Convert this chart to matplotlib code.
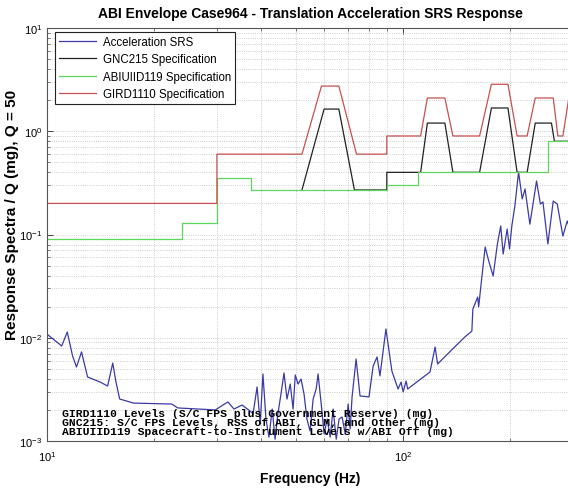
import matplotlib
matplotlib.use('Agg')
from matplotlib import pyplot
from matplotlib.ticker import LogLocator, NullFormatter

# measured SRS response (Hz, mg)
srs_freq = [10.07, 11.0, 11.4, 11.8, 12.1, 12.5, 13.0, 14.1, 14.8, 15.3, 15.6, 16.0, 17.5, 22.4, 23.3,
            29.7, 32.2, 33.5, 35.3, 37.2, 37.9, 38.9, 39.7, 40.4, 41.2, 42.0, 42.9, 43.7, 44.5, 45.4,
            46.3, 47.2, 48.2, 49.1, 49.8, 50.7, 51.7, 52.7, 53.7, 54.8, 55.9, 57.0, 57.7, 58.9, 60.0,
            61.2, 62.4, 63.6, 64.9, 66.1, 67.4, 68.8, 70.1, 71.0, 71.9, 73.8, 75.7, 80.2, 82.4, 84.5,
            86.1, 89.5, 93.0, 96.8, 98.7, 100, 102, 103, 119, 123, 125, 136, 149, 156, 157, 162, 163,
            167, 170, 174, 179, 184, 188, 191, 196, 199, 202, 206, 211, 216, 220, 227, 237, 243, 247,
            255, 264, 271, 281, 289, 298]
srs_mg = [0.01063, 0.00832, 0.01137, 0.00665, 0.00521, 0.00728, 0.00417, 0.00372, 0.00341, 0.00569,
          0.00381, 0.00255, 0.00233, 0.00228, 0.00209, 0.00200, 0.00239, 0.00204, 0.00223, 0.00195,
          0.00183, 0.00334, 0.00146, 0.00446, 0.00163, 0.00109, 0.00204, 0.00104, 0.00183, 0.00285,
          0.00456, 0.00255, 0.00356, 0.00204, 0.00436, 0.00356, 0.00398, 0.00285, 0.00163, 0.00125,
          0.00255, 0.00319, 0.00446, 0.00228, 0.00117, 0.00163, 0.00109, 0.00204, 0.00104, 0.00163,
          0.00171, 0.00117, 0.00228, 0.00131, 0.00267, 0.00622, 0.00273, 0.00267, 0.00532, 0.00652,
          0.00427, 0.01216, 0.00476, 0.00319, 0.00372, 0.00299, 0.00381, 0.00319, 0.00466, 0.00813,
          0.00557, 0.00745, 0.01016, 0.01161, 0.01897, 0.0248, 0.0199, 0.0434, 0.0757, 0.0553, 0.0396,
          0.0810, 0.121, 0.0647, 0.113, 0.0725, 0.121, 0.189, 0.403, 0.221, 0.276, 0.126, 0.330, 0.197,
          0.207, 0.0810, 0.211, 0.197, 0.0966, 0.135, 0.101]

gnc_freq = [52, 60, 66, 73, 90, 90, 112, 117, 131, 138, 164, 177, 197, 209, 223, 235, 261, 266, 300]
gnc_mg = [0.27, 1.64, 1.64, 0.27, 0.27, 0.4, 0.4, 1.2, 1.2, 0.4, 0.4, 1.68, 1.68, 0.4, 0.4, 1.2, 1.2,
          0.8, 0.8]

abi_freq = [10, 24, 24, 30, 30, 37.5, 37.5, 90, 90, 110, 110, 256, 256, 300]
abi_mg = [0.09, 0.09, 0.13, 0.13, 0.35, 0.35, 0.27, 0.27, 0.3, 0.3, 0.4, 0.4, 0.8, 0.8]

gird_freq = [10, 30, 30, 52, 59, 66, 74, 90, 90, 112, 117, 131, 138, 164, 177, 197, 209, 223, 235,
             264, 272, 281, 292, 300]
gird_mg = [0.2, 0.2, 0.6, 0.6, 2.74, 2.74, 0.6, 0.6, 0.9, 0.9, 2.1, 2.1, 0.9, 0.9, 2.85, 2.85, 0.9,
           0.9, 2.1, 2.1, 0.9, 0.9, 2.1, 2.1]

notes = ['GIRD1110 Levels (S/C FPS plus Government Reserve) (mg)',
         'GNC215: S/C FPS Levels, RSS of ABI, GLM, and Other (mg)',
         'ABIUIID119 Spacecraft-to-Instrument Levels w/ABI Off (mg)']

pyplot.rcParams['font.family'] = ['Liberation Sans', 'DejaVu Sans']
pyplot.rcParams['mathtext.default'] = 'regular'

W, H = 568, 489
fig = pyplot.figure(figsize=(W / 100, H / 100), dpi=100)
ax = fig.add_axes([47 / W, 1 - 442 / H, (573 - 47) / W, (442 - 29) / H])

ax.plot(srs_freq, srs_mg, color='#3b3ba8', linewidth=0.9, label='Acceleration SRS')
ax.plot(gnc_freq, gnc_mg, color='#222222', linewidth=0.9, label='GNC215 Specification')
ax.plot(abi_freq, abi_mg, color='#5cd65c', linewidth=0.9, label='ABIUIID119 Specification')
ax.plot(gird_freq, gird_mg, color='#c85050', linewidth=0.9, label='GIRD1110 Specification')

ax.set_xscale('log')
ax.set_yscale('log')
ax.set_xlim(10, 300)
ax.set_ylim(1e-3, 10)
ax.xaxis.set_minor_locator(LogLocator(base=10, subs=range(2, 10)))
ax.yaxis.set_minor_locator(LogLocator(base=10, subs=range(2, 10)))
ax.xaxis.set_minor_formatter(NullFormatter())
ax.yaxis.set_minor_formatter(NullFormatter())

ax.grid(which='both', linestyle=':', color='#bdbdbd', linewidth=0.6)
ax.tick_params(which='both', direction='in', top=True, right=False, colors='#444444',
               labelcolor='black', labelsize=8)
ax.tick_params(which='major', length=4, width=0.7)
ax.tick_params(which='minor', length=2.5, width=0.5)
ax.tick_params(axis='x', pad=6)
for side in ('left', 'bottom', 'top'):
    ax.spines[side].set_color('#555555')
    ax.spines[side].set_linewidth(0.8)
ax.spines['right'].set_visible(False)

leg = ax.legend(loc='upper left', bbox_to_anchor=(0.015, 0.99), borderaxespad=0, fancybox=False,
                edgecolor='#222222', framealpha=1, fontsize=8.3, handlelength=3.2,
                handletextpad=0.6, labelspacing=0.45, borderpad=0.35)
leg.get_frame().set_linewidth(0.8)

# level definitions, stacked in the lower left corner
ax.text((62 - 47) / 526, (442 - 423) / 413, '\n'.join(notes), transform=ax.transAxes,
        family='Liberation Mono', weight='bold', fontsize=8.2, linespacing=0.88,
        va='center', ha='left')

fig.text(310 / W, 1 - 14 / H, 'ABI Envelope Case964 - Translation Acceleration SRS Response',
         ha='center', va='center', weight='bold', fontsize=10)
fig.text(310 / W, 1 - 479 / H, 'Frequency (Hz)', ha='center', va='center', weight='bold', fontsize=10)
fig.text(12 / W, 1 - 215 / H, 'Response Spectra / Q (mg), Q = 50', ha='center', va='center',
         rotation=90, weight='bold', fontsize=11)

fig.savefig('out.png', dpi=100)
